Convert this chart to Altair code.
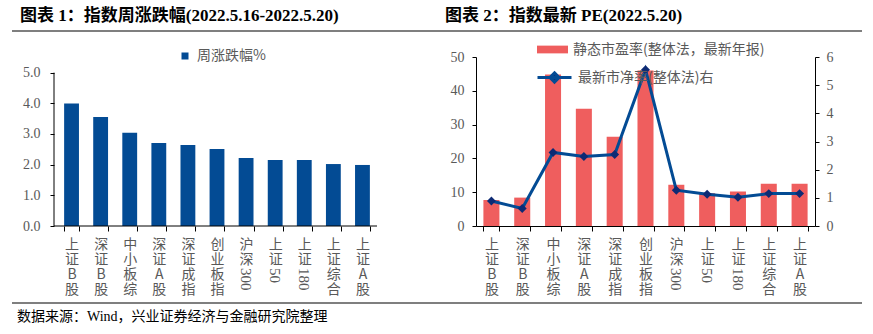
import altair as alt
import pandas as pd

cats = ['上证B股', '深证B股', '中小板综', '深证A股', '深证成指', '创业板指',
        '沪深300', '上证50', '上证180', '上证综合', '上证A股']
weekly = [3.99, 3.55, 3.04, 2.71, 2.64, 2.51, 2.22, 2.15, 2.15, 2.02, 1.99]
pe = [7.7, 8.4, 44.8, 34.7, 26.4, 46.0, 12.2, 9.7, 10.2, 12.5, 12.5]
pb = [0.89, 0.62, 2.61, 2.47, 2.54, 5.55, 1.27, 1.13, 1.02, 1.15, 1.15]
digits = [''.join(ch for ch in c if ch.isdigit()) for c in cats]

title1 = '图表 1：指数周涨跌幅(2022.5.16-2022.5.20)'
title2 = '图表 2：指数最新 PE(2022.5.20)'
source = '数据来源：Wind，兴业证券经济与金融研究院整理'
s1 = '周涨跌幅%'
s2 = '静态市盈率(整体法，最新年报)'
s3 = '最新市净率(整体法)右'
y1_ticks = [0, 1, 2, 3, 4, 5]
y2_ticks = [0, 10, 20, 30, 40, 50]
y3_ticks = [0, 1, 2, 3, 4, 5, 6]

BLUE = '#034B94'
RED = '#EF5E5E'
NAVY = '#0D2A74'
GRAY = '#595959'
CJK = 'Noto Sans CJK SC'
SERIF = 'Liberation Serif, Noto Sans CJK SC'

W1, W2, H = 323, 339, 169

df1 = pd.DataFrame({'cat': cats, 'v': weekly, 's': s1})
df2 = pd.DataFrame({'cat': cats, 'pe': pe, 'pb': pb, 's2': s2, 's3': s3})
dfd = pd.DataFrame({'cat': cats, 'd': digits})
dfd = dfd[dfd['d'] != '']

LABEL_EXPR = ("isValid(datum.value) ? "
              "split(replace(datum.value, regexp('[0-9]+', 'g'), ''), '') : ''")


def xenc(pin, rng, domain=True):
    return alt.X('cat:N', sort=cats,
                 scale=alt.Scale(paddingInner=pin, paddingOuter=pin / 2, range=rng),
                 axis=alt.Axis(title=None, labelAngle=0, labelOverlap=False,
                               labelExpr=LABEL_EXPR, domain=domain,
                               labelLineHeight=15, labelFontSize=14, labelFont=CJK,
                               labelColor=GRAY, labelPadding=6, tickBand='extent',
                               tickSize=5, tickColor='black', domainColor='black'))


def digit_layer(pin, rng, domain=True):
    return alt.Chart(dfd).mark_text(angle=90, align='left', baseline='middle',
                                    font='Liberation Serif', fontSize=15, color=GRAY).encode(
        x=xenc(pin, rng, domain), y=alt.value(H + 42), text='d:N')


def text_layer(txt, x, y, size, weight='normal', color='black'):
    return alt.Chart(pd.DataFrame({'t': [txt]})).mark_text(
        align='left', baseline='middle', font=SERIF, fontSize=size,
        fontWeight=weight, color=color).encode(
        x=alt.value(x), y=alt.value(y), text='t:N')


def hrule(y, x1=-42, x2=808, sw=1.2):
    return alt.Chart(pd.DataFrame({'t': [0]})).mark_rule(color='black', strokeWidth=sw).encode(
        x=alt.value(x1), x2=alt.value(x2), y=alt.value(y))


def yaxis(vals, fmt, pad, orient='left', domain=True):
    return alt.Axis(orient=orient, values=vals, format=fmt, domain=domain, tickSize=4,
                    tickColor='black', domainColor='black', labelPadding=pad, grid=False,
                    title=None, labelOverlap=False, labelFont='Liberation Serif',
                    labelFontSize=14, labelColor=GRAY)


def legend(x, y, sym, size, sw):
    return alt.Legend(title=None, orient='none', legendX=x, legendY=y, symbolType=sym,
                      symbolSize=size, symbolStrokeWidth=sw, labelFont=CJK,
                      labelFontSize=14, labelColor=GRAY, labelOffset=5, padding=0,
                      labelLimit=400)


# ---- left panel
R1 = [3, W1]
Y1AX = yaxis(y1_ticks, '.1f', 10, domain=False)
Y1SC = alt.Scale(domain=[0, 5.51], nice=False)
bars1 = alt.Chart(df1).mark_bar(color=BLUE).encode(
    x=xenc(0.49, R1, domain=False),
    y=alt.Y('v:Q', scale=Y1SC, axis=Y1AX),
    color=alt.Color('s:N', scale=alt.Scale(domain=[s1], range=[BLUE]),
                    legend=legend(124, -8, 'square', 49, 0)))
yline = alt.Chart(pd.DataFrame({'a': [y1_ticks[0]], 'b': [y1_ticks[-1]]})).mark_rule(
    color='black').encode(x=alt.value(0), y=alt.Y('a:Q', scale=Y1SC, axis=Y1AX), y2='b:Q')

left = alt.layer(
    bars1, yline, digit_layer(0.49, R1, domain=False),
    hrule(H, 0, W1, 1),
    text_layer(title1, -34, -41, 17, 'bold'),
    hrule(-26), hrule(246),
    text_layer(source, -37, 260, 14),
).properties(width=W1, height=H)

# ---- right panel
R2 = [0, W2]
bars2 = alt.Chart(df2).mark_bar().encode(
    x=xenc(0.48, R2),
    y=alt.Y('pe:Q', scale=alt.Scale(domain=[0, 50], nice=False),
            axis=yaxis(y2_ticks, 'd', 8)),
    color=alt.Color('s2:N', scale=alt.Scale(domain=[s2], range=[RED]),
                    legend=legend(61, -23, 'M-1,-0.25L1,-0.25L1,0.25L-1,0.25Z', 961, 0)))
line2 = alt.Chart(df2).mark_line(strokeWidth=3, point=alt.OverlayMarkDef(
    shape='diamond', size=80, filled=True, fill=NAVY, strokeWidth=0)).encode(
    x=xenc(0.48, R2),
    y=alt.Y('pb:Q', scale=alt.Scale(domain=[0, 6], nice=False),
            axis=yaxis(y3_ticks, 'd', 7, orient='right')),
    stroke=alt.Stroke('s3:N', scale=alt.Scale(domain=[s3], range=[BLUE]),
                      legend=legend(60, 2, 'M-1,0L1,0M0,-0.27L0.27,0L0,0.27L-0.27,0Z',
                                    1156, 3)))

right = alt.layer(
    bars2, line2, digit_layer(0.48, R2),
    text_layer(title2, -31, -41, 17, 'bold'),
).resolve_scale(y='independent').properties(width=W2, height=H)

chart = alt.hconcat(left, right, spacing=99, bounds='flush').resolve_scale(
    color='independent', stroke='independent', x='independent'
).properties(
    autosize=alt.AutoSizeParams(type='none'),
    padding={'left': 54, 'top': 57, 'right': 819, 'bottom': 277},
).configure_view(stroke=None)

chart.save('out.html', embed_options={'renderer': 'svg', 'actions': False})
